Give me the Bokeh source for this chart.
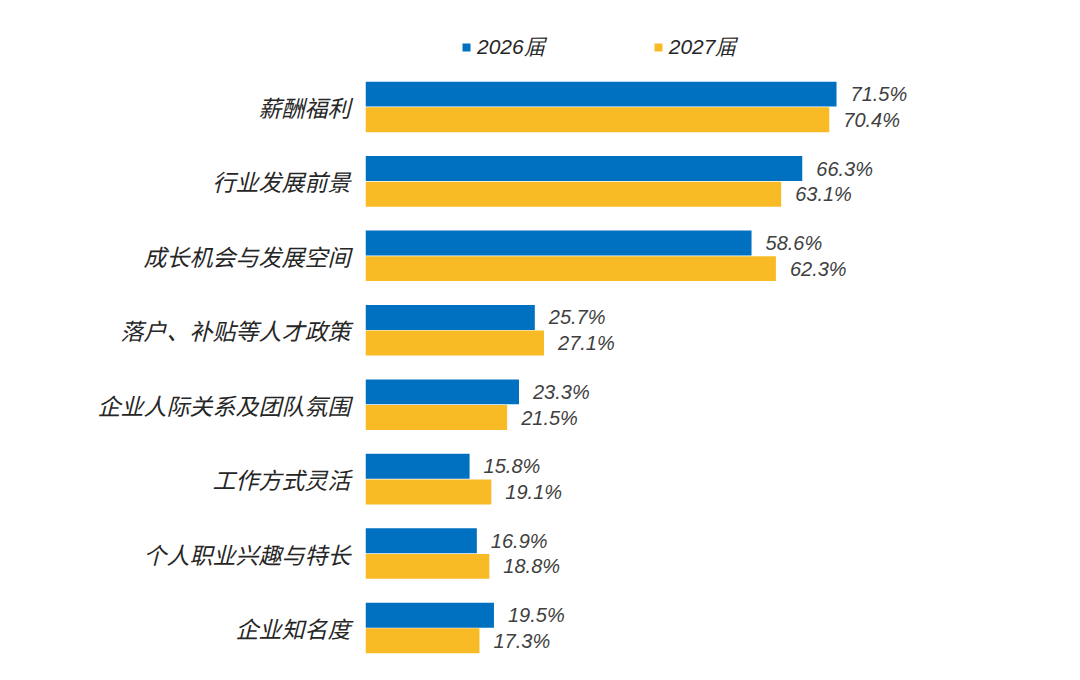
from bokeh.plotting import figure
from bokeh.models import Range1d, ColumnDataSource, Legend, LegendItem, FixedTicker
from bokeh.transform import dodge
from bokeh.embed import file_html
from bokeh.resources import INLINE

categories = ["薪酬福利", "行业发展前景", "成长机会与发展空间", "落户、补贴等人才政策",
              "企业人际关系及团队氛围", "工作方式灵活", "个人职业兴趣与特长", "企业知名度"]
series_names = ["2026届", "2027届"]
v2026 = [71.5, 66.3, 58.6, 25.7, 23.3, 15.8, 16.9, 19.5]
v2027 = [70.4, 63.1, 62.3, 27.1, 21.5, 19.1, 18.8, 17.3]

BLUE = "#0070C0"
YELLOW = "#F8BB26"
FONT = "Noto Sans CJK SC"
NUMFONT = "Liberation Sans"

n = len(categories)
ypos = [n - 1 - i for i in range(n)]  # first category at top

src = ColumnDataSource(dict(
    y=ypos, v26=v2026, v27=v2027,
    l26=[f"{v:.1f}%" for v in v2026], l27=[f"{v:.1f}%" for v in v2027],
))

p = figure(width=1064, height=664, output_backend="svg", toolbar_location=None,
           y_range=Range1d(-0.49, n - 1 + 1.43),
           x_range=Range1d(0, 105.5),
           min_border_left=365, min_border_right=4, min_border_top=0, min_border_bottom=0)
p.outline_line_color = None
p.xgrid.visible = False
p.ygrid.visible = False
p.xaxis.visible = False
p.yaxis.ticker = FixedTicker(ticks=ypos)
p.yaxis.major_label_overrides = {y: c for y, c in zip(ypos, categories)}
p.yaxis.axis_line_color = None
p.yaxis.major_tick_line_color = None
p.yaxis.minor_tick_line_color = None
p.yaxis.major_tick_out = 0
p.yaxis.major_label_standoff = 15
p.yaxis.major_label_text_font = FONT
p.yaxis.major_label_text_font_size = "23px"
p.yaxis.major_label_text_font_style = "italic"
p.yaxis.major_label_text_color = "#262626"

b1 = p.hbar(y=dodge("y", 0.172), right="v26", left=0, height=0.335,
            source=src, fill_color=BLUE, line_color=None)
b2 = p.hbar(y=dodge("y", -0.172), right="v27", left=0, height=0.335,
            source=src, fill_color=YELLOW, line_color=None)

for col, lab, off in (("v26", "l26", 0.172), ("v27", "l27", -0.172)):
    p.text(x=col, y=dodge("y", off), text=lab, source=src,
           x_offset=14, text_baseline="middle", text_align="left",
           text_font={"value": NUMFONT}, text_font_size="20px", text_font_style="italic",
           text_color="#404040")

legend = Legend(items=[LegendItem(label=series_names[0], renderers=[b1]),
                       LegendItem(label=series_names[1], renderers=[b2])],
                orientation="horizontal", location=(96, 603))
legend.border_line_color = None
legend.background_fill_alpha = 0
legend.padding = 0
legend.margin = 0
legend.spacing = 108
legend.glyph_width = 10
legend.glyph_height = 10
legend.label_standoff = 6
legend.label_text_font = NUMFONT
legend.label_text_font_size = "21px"
legend.label_text_font_style = "italic"
legend.label_text_color = "#262626"
p.add_layout(legend, "center")

open("out.html", "w").write(file_html(p, INLINE))
